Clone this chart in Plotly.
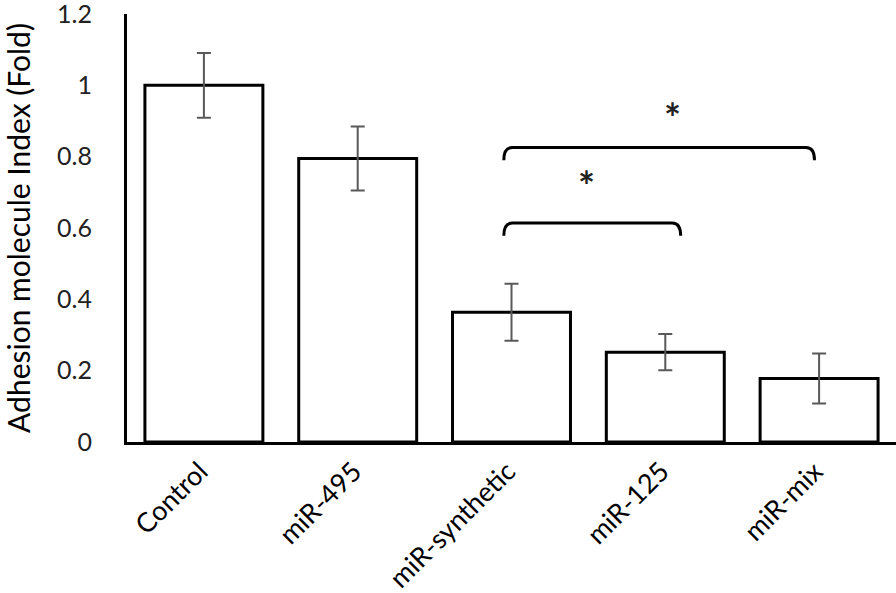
import plotly.graph_objects as go

categories = ["Control", "miR-495", "miR-synthetic", "miR-125", "miR-mix"]
values = [1.0, 0.795, 0.364, 0.252, 0.178]
errors = [0.091, 0.09, 0.08, 0.051, 0.07]
y_ticks = [0, 0.2, 0.4, 0.6, 0.8, 1.0, 1.2]
y_tick_labels = ["0", "0.2", "0.4", "0.6", "0.8", "1", "1.2"]

# significance brackets: (x_start, x_end, y_top, y_bottom, star_x, star_y)
brackets = [
    (1.95, 3.1, 0.614, 0.578, 2.49, 0.734),
    (1.95, 3.97, 0.826, 0.79, 3.05, 0.926),
]

FONT = "Lato"
xs = list(range(len(categories)))

fig = go.Figure()
fig.add_trace(go.Bar(
    x=xs, y=values,
    marker=dict(color="white", line=dict(color="black", width=3)),
    error_y=dict(type="data", array=errors, color="#595959", thickness=2, width=7),
    showlegend=False,
))

shapes = []
annotations = []
for x0, x1, yt, yb, sx, sy in brackets:
    dx = 0.055
    path = (f"M {x0},{yb} Q {x0},{yt} {x0+dx},{yt} L {x1-dx},{yt} "
            f"Q {x1},{yt} {x1},{yb}")
    shapes.append(dict(type="path", path=path, xref="x", yref="y",
                       line=dict(color="black", width=3)))
    annotations.append(dict(x=sx, y=sy, xref="x", yref="y", text="<b>*</b>",
                            showarrow=False, font=dict(family=FONT, size=40, color="#222222"),
                            yanchor="middle", xanchor="center", yshift=-6))

fig.update_layout(
    width=896, height=593,
    margin=dict(l=127, r=0, t=14, b=151),
    plot_bgcolor="white", paper_bgcolor="white",
    bargap=0.233,
    shapes=shapes, annotations=annotations,
    font=dict(family=FONT, color="black"),
)
fig.update_xaxes(
    range=[-0.5, 4.5], tickvals=xs, ticktext=categories, tickangle=-45,
    showline=True, linecolor="black", linewidth=3, showgrid=False, zeroline=False,
    ticks="", tickfont=dict(family=FONT, size=27, color="black"),
    ticklabelstandoff=0, ticklabelshift=-4, automargin=False, ticklabeloverflow="allow",
)
fig.update_yaxes(
    range=[0, 1.2001], tickvals=y_ticks, ticktext=y_tick_labels,
    showline=True, linecolor="black", linewidth=3, showgrid=False, zeroline=False,
    ticks="", tickfont=dict(family=FONT, size=25, color="#222222"),
    ticklabelstandoff=27, automargin=False, ticklabeloverflow="allow",
    title=dict(text="Adhesion molecule Index (Fold)", font=dict(family=FONT, size=30, color="black"), standoff=21),
)

# remove the default 8px page margin so the figure fills the window exactly
fig.write_html("out.html", config={"displayModeBar": False},
               post_script="document.body.style.margin='0';")
